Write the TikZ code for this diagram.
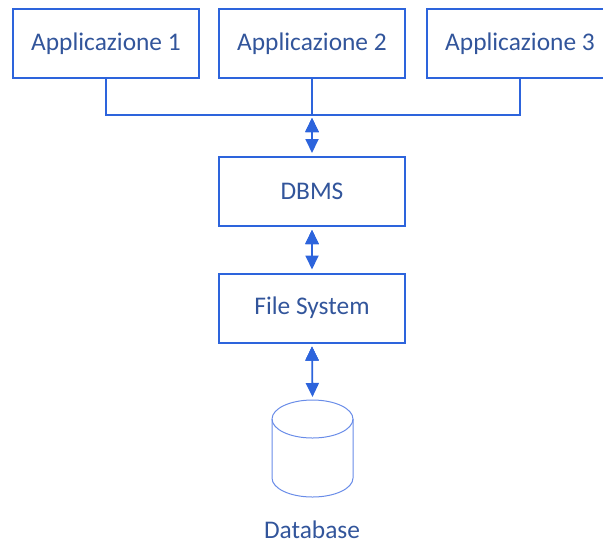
\documentclass[tikz,border=0pt]{standalone}
\usepackage{fontspec}
\setmainfont{Carlito}
\usetikzlibrary{arrows.meta}
\definecolor{boxblue}{RGB}{45,100,220}
\definecolor{textblue}{RGB}{50,85,155}
\definecolor{dbblue}{RGB}{105,140,232}
\tikzset{
  layerbox/.style={shape=rectangle,draw=boxblue,line width=1pt,align=center,
    minimum width=93pt,minimum height=34.5pt,text=textblue,
    font=\fontsize{12.7}{15}\selectfont},
  link/.style={draw,color=boxblue,line width=0.9pt},
  biarrow/.style={link,{Triangle[width=6.5pt,length=7pt]}-{Triangle[width=6.5pt,length=7pt]},shorten <=1.5pt,shorten >=1.5pt},
  dbline/.style={draw=dbblue,line width=0.5pt},
}
\begin{document}
\begin{tikzpicture}[x=0.5pt,y=0.5pt]
\useasboundingbox (0,0) rectangle (603,-542);
\node[layerbox] (app1) at (106,-43.5) {Applicazione 1};
\node[layerbox] (app2) at (312,-43.5) {Applicazione 2};
\node[layerbox] (app3) at (520,-43.5) {Applicazione 3};
\node[layerbox] (dbms) at (312,-191.5) {DBMS};
\node[layerbox] (fs) at (312,-308) {File System};
\node[anchor=base,inner sep=0pt,text=textblue,font=\fontsize{12.7}{15}\selectfont] (dblabel) at (312,-538) {Database};
\coordinate (bus) at (312,-115);
\coordinate (dbtop) at (312.5,-400);

% the database drum
\path [dbline] (272,-419) arc[start angle=180,end angle=-180,x radius=20.25pt,y radius=9.5pt];
\path [dbline] (272,-419) -- (272,-478) arc[start angle=180,end angle=360,x radius=20.25pt,y radius=9.5pt] -- (353,-419);

% bus of the applications
\path [link] (app1.south) |- (bus) -| (app3.south);
\path [link] (app2.south) -- (bus);

\path [biarrow] (bus) edge node {} (dbms.north);
\path [biarrow] (dbms.south) edge node {} (fs.north);
\path [biarrow] (fs.south) edge node {} (dbtop);
\end{tikzpicture}
\end{document}
